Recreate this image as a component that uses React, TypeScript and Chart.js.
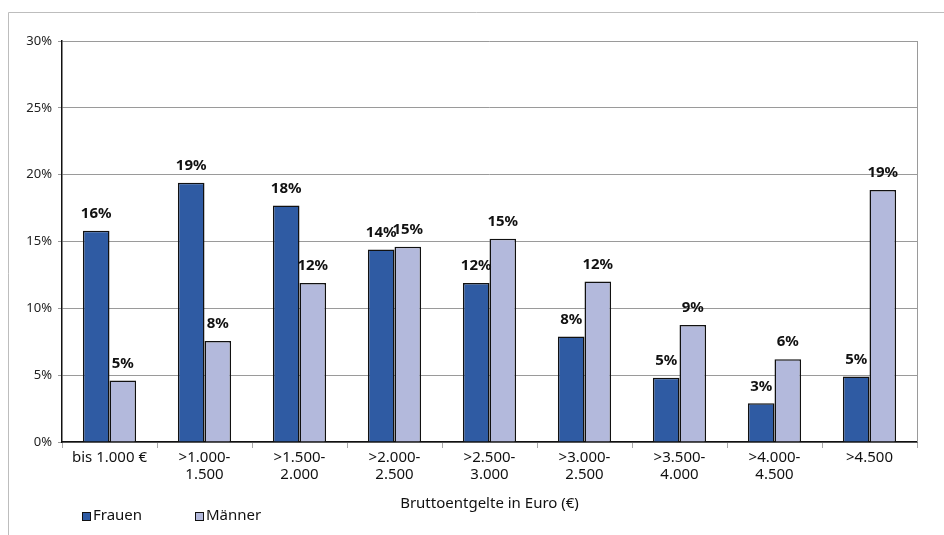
import React, { useEffect, useRef } from "react";
import { Chart, registerables } from "chart.js";

Chart.register(...registerables);

const categories: string[][] = [
  ["bis 1.000 €"],
  [">1.000-", "1.500"],
  [">1.500-", "2.000"],
  [">2.000-", "2.500"],
  [">2.500-", "3.000"],
  [">3.000-", "2.500"],
  [">3.500-", "4.000"],
  [">4.000-", "4.500"],
  [">4.500"],
];
const frauen = [15.8, 19.4, 17.7, 14.4, 11.9, 7.9, 4.8, 2.9, 4.9];
const maenner = [4.6, 7.55, 11.9, 14.6, 15.2, 12.0, 8.75, 6.2, 18.85];
const yTicks = [0, 5, 10, 15, 20, 25, 30];
const seriesNames = ["Frauen", "Männer"];
const xTitle = "Bruttoentgelte in Euro (€)";

const FONT = "'Noto Sans', 'Open Sans', sans-serif";
const COLORS = ["#2f5ba3", "#b3b9dc"];

const framePlugin = {
  id: "frame",
  beforeDraw(chart: any) {
    const ctx = chart.ctx;
    ctx.save();
    ctx.strokeStyle = "#bdbdbd";
    ctx.lineWidth = 1;
    ctx.beginPath();
    ctx.moveTo(8.5, 535);
    ctx.lineTo(8.5, 12.5);
    ctx.lineTo(944, 12.5);
    ctx.stroke();
    ctx.restore();
  },
  afterDraw(chart: any) {
    const { ctx, chartArea } = chart;
    ctx.save();
    ctx.strokeStyle = "#9a9a9a";
    ctx.lineWidth = 1;
    const x = Math.round(chartArea.right) + 0.5;
    ctx.beginPath();
    ctx.moveTo(x, chartArea.top);
    ctx.lineTo(x, chartArea.bottom);
    ctx.stroke();
    // legend
    ctx.font = `15px ${FONT}`;
    ctx.textBaseline = "middle";
    ctx.fillStyle = "#111";
    const items = [
      { x: 82, label: seriesNames[0], color: COLORS[0] },
      { x: 195, label: seriesNames[1], color: COLORS[1] },
    ];
    items.forEach((it) => {
      ctx.fillStyle = it.color;
      ctx.fillRect(it.x, 512, 8, 8);
      ctx.strokeStyle = "#111";
      ctx.lineWidth = 1;
      ctx.strokeRect(it.x + 0.5, 512.5, 8, 8);
      ctx.fillStyle = "#111";
      ctx.fillText(it.label, it.x + 11, 515.5);
    });
    ctx.restore();
  },
};

const labelPlugin = {
  id: "barLabels",
  afterDatasetsDraw(chart: any) {
    const ctx = chart.ctx;
    ctx.save();
    ctx.font = `bold 15px ${FONT}`;
    ctx.textAlign = "center";
    ctx.textBaseline = "middle";
    ctx.fillStyle = "#111";
    chart.data.datasets.forEach((ds: any, i: number) => {
      const meta = chart.getDatasetMeta(i);
      meta.data.forEach((el: any, j: number) => {
        ctx.fillText(Math.round(ds.data[j]) + "%", el.x, el.y - 17);
      });
    });
    ctx.restore();
  },
};

export default function App() {
  const ref = useRef<HTMLCanvasElement | null>(null);
  useEffect(() => {
    if (!ref.current) return;
    const chart = new Chart(ref.current, {
      type: "bar",
      data: {
        labels: categories as any,
        datasets: [
          {
            label: seriesNames[0],
            data: frauen,
            backgroundColor: COLORS[0],
            borderColor: "#111",
            borderWidth: 1.5,
            barPercentage: 1,
            categoryPercentage: 0.56,
          },
          {
            label: seriesNames[1],
            data: maenner,
            backgroundColor: COLORS[1],
            borderColor: "#111",
            borderWidth: 1.5,
            barPercentage: 1,
            categoryPercentage: 0.56,
          },
        ],
      },
      options: {
        responsive: false,
        animation: false,
        devicePixelRatio: 1,
        layout: { padding: { left: 8, top: 41, right: 27, bottom: 0 } },
        plugins: { legend: { display: false }, tooltip: { enabled: false } },
        scales: {
          x: {
            afterFit: (s: any) => {
              s.height = 93;
            },
            grid: {
              display: true,
              drawOnChartArea: false,
              drawTicks: true,
              tickLength: 6,
              color: "#aaaaaa",
              offset: true,
            },
            border: { color: "#111", width: 1.5 },
            ticks: {
              padding: 1,
              color: "#111",
              font: { family: FONT, size: 15, lineHeight: 1.15 },
              maxRotation: 0,
              autoSkip: false,
            },
            title: {
              display: true,
              text: xTitle,
              color: "#111",
              font: { family: FONT, size: 15, lineHeight: 1.2 },
              padding: { top: 0, bottom: 22 },
            },
          },
          y: {
            min: 0,
            max: 30,
            afterFit: (s: any) => {
              s.width = 54;
            },
            afterBuildTicks: (s: any) => {
              s.ticks = yTicks.map((v) => ({ value: v }));
            },
            grid: {
              color: "#9a9a9a",
              lineWidth: 1,
              tickLength: 4,
              drawTicks: true,
            },
            border: { color: "#111", width: 1.5 },
            ticks: {
              padding: 6,
              color: "#222",
              font: { family: FONT, size: 13 },
              callback: (v: any) => v + "%",
            },
          },
        },
      },
      plugins: [framePlugin, labelPlugin],
    });
    return () => chart.destroy();
  }, []);
  return (
    <canvas
      ref={ref}
      width={944}
      height={535}
      style={{ position: "fixed", left: 0, top: 0, width: 944, height: 535, display: "block" }}
    />
  );
}
